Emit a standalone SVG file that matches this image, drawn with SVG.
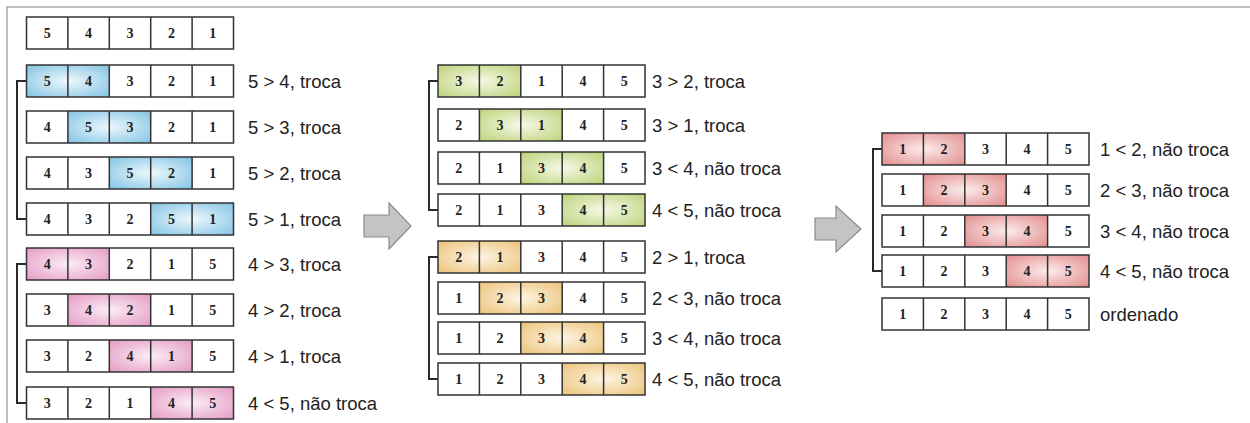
<svg xmlns="http://www.w3.org/2000/svg" xmlns:xlink="http://www.w3.org/1999/xlink" width="1250" height="423" viewBox="0 0 1250 423">
<style>
.bg{fill:#ffffff}
.frame{fill:none;stroke:#333;stroke-width:1.5}
.n{font-family:"Liberation Serif","Times New Roman",serif;font-weight:bold;font-size:14px;fill:#222;text-anchor:middle}
.lb{font-family:"Liberation Sans",Arial,sans-serif;font-size:18.5px;fill:#222}
.br{fill:none;stroke:#2a2a2a;stroke-width:2}
.arrow{fill:#c4c4c4;stroke:#8a8a8a;stroke-width:1.2;stroke-linejoin:miter}
.border{stroke:#a8a8a8;stroke-width:1.5;fill:none}
</style>
<defs>
<radialGradient id="gBlue" cx="50%" cy="50%" r="70%"><stop offset="0" stop-color="#eef8fd"/><stop offset="1" stop-color="#82c3e3"/></radialGradient>
<radialGradient id="gPink" cx="50%" cy="50%" r="70%"><stop offset="0" stop-color="#fcedf5"/><stop offset="1" stop-color="#e39ac4"/></radialGradient>
<radialGradient id="gGreen" cx="50%" cy="50%" r="70%"><stop offset="0" stop-color="#f6f9e6"/><stop offset="1" stop-color="#bdd27a"/></radialGradient>
<radialGradient id="gOrange" cx="50%" cy="50%" r="70%"><stop offset="0" stop-color="#fdf5e4"/><stop offset="1" stop-color="#ecc278"/></radialGradient>
<radialGradient id="gRed" cx="50%" cy="50%" r="70%"><stop offset="0" stop-color="#fcecec"/><stop offset="1" stop-color="#e28c8c"/></radialGradient>
<g id="row">
<rect class="frame" x="0" y="0" width="207" height="32"/>
<path class="frame" d="M41.4 0V32M82.8 0V32M124.2 0V32M165.6 0V32"/>
</g>
<rect id="bg5" class="bg" x="0" y="0" width="207" height="32"/>
</defs>

<path class="border" d="M7 423V7H1250"/>

<g id="connectors">
<path class="br" d="M26 81H17V219H26"/>
<path class="br" d="M26 264H17V403H26"/>
<path class="br" d="M438 81H429V210H438"/>
<path class="br" d="M438 257H429V379H438"/>
<path class="br" d="M882 149H873V271H882"/>
<polygon class="arrow" points="364,215 389,215 389,203 411,226 389,249 389,237 364,237"/>
<polygon class="arrow" points="815,218 836,218 836,206 861,229 836,252 836,240 815,240"/>
</g>

<!-- Left column -->
<g id="L0" transform="translate(26.5,17)">
<use href="#bg5"/><use href="#row"/>
<text class="n" x="20.7" y="21">5</text><text class="n" x="62.1" y="21">4</text><text class="n" x="103.5" y="21">3</text><text class="n" x="144.9" y="21">2</text><text class="n" x="186.3" y="21">1</text>
</g>
<g id="L1" transform="translate(26.5,65)">
<use href="#bg5"/><rect x="0" y="0" width="82.8" height="32" fill="url(#gBlue)"/><use href="#row"/>
<text class="n" x="20.7" y="21">5</text><text class="n" x="62.1" y="21">4</text><text class="n" x="103.5" y="21">3</text><text class="n" x="144.9" y="21">2</text><text class="n" x="186.3" y="21">1</text>
<text class="lb" x="221.5" y="22.5">5 &gt; 4, troca</text>
</g>
<g id="L2" transform="translate(26.5,111)">
<use href="#bg5"/><rect x="41.4" y="0" width="82.8" height="32" fill="url(#gBlue)"/><use href="#row"/>
<text class="n" x="20.7" y="21">4</text><text class="n" x="62.1" y="21">5</text><text class="n" x="103.5" y="21">3</text><text class="n" x="144.9" y="21">2</text><text class="n" x="186.3" y="21">1</text>
<text class="lb" x="221.5" y="22.5">5 &gt; 3, troca</text>
</g>
<g id="L3" transform="translate(26.5,157)">
<use href="#bg5"/><rect x="82.8" y="0" width="82.8" height="32" fill="url(#gBlue)"/><use href="#row"/>
<text class="n" x="20.7" y="21">4</text><text class="n" x="62.1" y="21">3</text><text class="n" x="103.5" y="21">5</text><text class="n" x="144.9" y="21">2</text><text class="n" x="186.3" y="21">1</text>
<text class="lb" x="221.5" y="22.5">5 &gt; 2, troca</text>
</g>
<g id="L4" transform="translate(26.5,203)">
<use href="#bg5"/><rect x="124.2" y="0" width="82.8" height="32" fill="url(#gBlue)"/><use href="#row"/>
<text class="n" x="20.7" y="21">4</text><text class="n" x="62.1" y="21">3</text><text class="n" x="103.5" y="21">2</text><text class="n" x="144.9" y="21">5</text><text class="n" x="186.3" y="21">1</text>
<text class="lb" x="221.5" y="22.5">5 &gt; 1, troca</text>
</g>
<g id="L5" transform="translate(26.5,248)">
<use href="#bg5"/><rect x="0" y="0" width="82.8" height="32" fill="url(#gPink)"/><use href="#row"/>
<text class="n" x="20.7" y="21">4</text><text class="n" x="62.1" y="21">3</text><text class="n" x="103.5" y="21">2</text><text class="n" x="144.9" y="21">1</text><text class="n" x="186.3" y="21">5</text>
<text class="lb" x="221.5" y="22.5">4 &gt; 3, troca</text>
</g>
<g id="L6" transform="translate(26.5,294)">
<use href="#bg5"/><rect x="41.4" y="0" width="82.8" height="32" fill="url(#gPink)"/><use href="#row"/>
<text class="n" x="20.7" y="21">3</text><text class="n" x="62.1" y="21">4</text><text class="n" x="103.5" y="21">2</text><text class="n" x="144.9" y="21">1</text><text class="n" x="186.3" y="21">5</text>
<text class="lb" x="221.5" y="22.5">4 &gt; 2, troca</text>
</g>
<g id="L7" transform="translate(26.5,340)">
<use href="#bg5"/><rect x="82.8" y="0" width="82.8" height="32" fill="url(#gPink)"/><use href="#row"/>
<text class="n" x="20.7" y="21">3</text><text class="n" x="62.1" y="21">2</text><text class="n" x="103.5" y="21">4</text><text class="n" x="144.9" y="21">1</text><text class="n" x="186.3" y="21">5</text>
<text class="lb" x="221.5" y="22.5">4 &gt; 1, troca</text>
</g>
<g id="L8" transform="translate(26.5,387)">
<use href="#bg5"/><rect x="124.2" y="0" width="82.8" height="32" fill="url(#gPink)"/><use href="#row"/>
<text class="n" x="20.7" y="21">3</text><text class="n" x="62.1" y="21">2</text><text class="n" x="103.5" y="21">1</text><text class="n" x="144.9" y="21">4</text><text class="n" x="186.3" y="21">5</text>
<text class="lb" x="221.5" y="22.5">4 &lt; 5, não troca</text>
</g>

<!-- Middle column -->
<g id="M1" transform="translate(438,65)">
<use href="#bg5"/><rect x="0" y="0" width="82.8" height="32" fill="url(#gGreen)"/><use href="#row"/>
<text class="n" x="20.7" y="21">3</text><text class="n" x="62.1" y="21">2</text><text class="n" x="103.5" y="21">1</text><text class="n" x="144.9" y="21">4</text><text class="n" x="186.3" y="21">5</text>
<text class="lb" x="214" y="22.5">3 &gt; 2, troca</text>
</g>
<g id="M2" transform="translate(438,109)">
<use href="#bg5"/><rect x="41.4" y="0" width="82.8" height="32" fill="url(#gGreen)"/><use href="#row"/>
<text class="n" x="20.7" y="21">2</text><text class="n" x="62.1" y="21">3</text><text class="n" x="103.5" y="21">1</text><text class="n" x="144.9" y="21">4</text><text class="n" x="186.3" y="21">5</text>
<text class="lb" x="214" y="22.5">3 &gt; 1, troca</text>
</g>
<g id="M3" transform="translate(438,152)">
<use href="#bg5"/><rect x="82.8" y="0" width="82.8" height="32" fill="url(#gGreen)"/><use href="#row"/>
<text class="n" x="20.7" y="21">2</text><text class="n" x="62.1" y="21">1</text><text class="n" x="103.5" y="21">3</text><text class="n" x="144.9" y="21">4</text><text class="n" x="186.3" y="21">5</text>
<text class="lb" x="214" y="22.5">3 &lt; 4, não troca</text>
</g>
<g id="M4" transform="translate(438,194)">
<use href="#bg5"/><rect x="124.2" y="0" width="82.8" height="32" fill="url(#gGreen)"/><use href="#row"/>
<text class="n" x="20.7" y="21">2</text><text class="n" x="62.1" y="21">1</text><text class="n" x="103.5" y="21">3</text><text class="n" x="144.9" y="21">4</text><text class="n" x="186.3" y="21">5</text>
<text class="lb" x="214" y="22.5">4 &lt; 5, não troca</text>
</g>
<g id="M5" transform="translate(438,241)">
<use href="#bg5"/><rect x="0" y="0" width="82.8" height="32" fill="url(#gOrange)"/><use href="#row"/>
<text class="n" x="20.7" y="21">2</text><text class="n" x="62.1" y="21">1</text><text class="n" x="103.5" y="21">3</text><text class="n" x="144.9" y="21">4</text><text class="n" x="186.3" y="21">5</text>
<text class="lb" x="214" y="22.5">2 &gt; 1, troca</text>
</g>
<g id="M6" transform="translate(438,282)">
<use href="#bg5"/><rect x="41.4" y="0" width="82.8" height="32" fill="url(#gOrange)"/><use href="#row"/>
<text class="n" x="20.7" y="21">1</text><text class="n" x="62.1" y="21">2</text><text class="n" x="103.5" y="21">3</text><text class="n" x="144.9" y="21">4</text><text class="n" x="186.3" y="21">5</text>
<text class="lb" x="214" y="22.5">2 &lt; 3, não troca</text>
</g>
<g id="M7" transform="translate(438,322)">
<use href="#bg5"/><rect x="82.8" y="0" width="82.8" height="32" fill="url(#gOrange)"/><use href="#row"/>
<text class="n" x="20.7" y="21">1</text><text class="n" x="62.1" y="21">2</text><text class="n" x="103.5" y="21">3</text><text class="n" x="144.9" y="21">4</text><text class="n" x="186.3" y="21">5</text>
<text class="lb" x="214" y="22.5">3 &lt; 4, não troca</text>
</g>
<g id="M8" transform="translate(438,363)">
<use href="#bg5"/><rect x="124.2" y="0" width="82.8" height="32" fill="url(#gOrange)"/><use href="#row"/>
<text class="n" x="20.7" y="21">1</text><text class="n" x="62.1" y="21">2</text><text class="n" x="103.5" y="21">3</text><text class="n" x="144.9" y="21">4</text><text class="n" x="186.3" y="21">5</text>
<text class="lb" x="214" y="22.5">4 &lt; 5, não troca</text>
</g>

<!-- Right column -->
<g id="R1" transform="translate(882,133)">
<use href="#bg5"/><rect x="0" y="0" width="82.8" height="32" fill="url(#gRed)"/><use href="#row"/>
<text class="n" x="20.7" y="21">1</text><text class="n" x="62.1" y="21">2</text><text class="n" x="103.5" y="21">3</text><text class="n" x="144.9" y="21">4</text><text class="n" x="186.3" y="21">5</text>
<text class="lb" x="218" y="22.5">1 &lt; 2, não troca</text>
</g>
<g id="R2" transform="translate(882,174)">
<use href="#bg5"/><rect x="41.4" y="0" width="82.8" height="32" fill="url(#gRed)"/><use href="#row"/>
<text class="n" x="20.7" y="21">1</text><text class="n" x="62.1" y="21">2</text><text class="n" x="103.5" y="21">3</text><text class="n" x="144.9" y="21">4</text><text class="n" x="186.3" y="21">5</text>
<text class="lb" x="218" y="22.5">2 &lt; 3, não troca</text>
</g>
<g id="R3" transform="translate(882,215)">
<use href="#bg5"/><rect x="82.8" y="0" width="82.8" height="32" fill="url(#gRed)"/><use href="#row"/>
<text class="n" x="20.7" y="21">1</text><text class="n" x="62.1" y="21">2</text><text class="n" x="103.5" y="21">3</text><text class="n" x="144.9" y="21">4</text><text class="n" x="186.3" y="21">5</text>
<text class="lb" x="218" y="22.5">3 &lt; 4, não troca</text>
</g>
<g id="R4" transform="translate(882,255)">
<use href="#bg5"/><rect x="124.2" y="0" width="82.8" height="32" fill="url(#gRed)"/><use href="#row"/>
<text class="n" x="20.7" y="21">1</text><text class="n" x="62.1" y="21">2</text><text class="n" x="103.5" y="21">3</text><text class="n" x="144.9" y="21">4</text><text class="n" x="186.3" y="21">5</text>
<text class="lb" x="218" y="22.5">4 &lt; 5, não troca</text>
</g>
<g id="R5" transform="translate(882,298)">
<use href="#bg5"/><use href="#row"/>
<text class="n" x="20.7" y="21">1</text><text class="n" x="62.1" y="21">2</text><text class="n" x="103.5" y="21">3</text><text class="n" x="144.9" y="21">4</text><text class="n" x="186.3" y="21">5</text>
<text class="lb" x="218" y="22.5">ordenado</text>
</g>
</svg>
